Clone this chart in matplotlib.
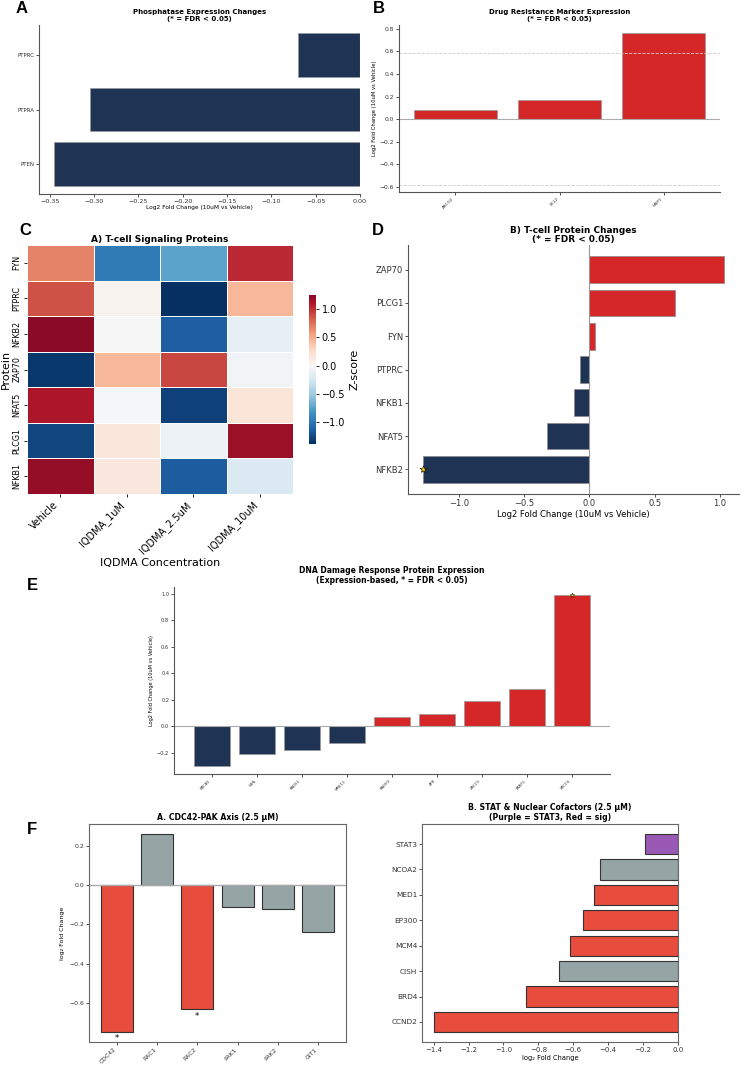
import matplotlib
matplotlib.use('Agg')
import matplotlib.pyplot as plt
import numpy as np
import pandas as pd
import seaborn as sns

W, H = 742, 1068
NAVY = '#1f3354'
RED = '#d62728'
F_RED = '#e74c3c'
F_GREY = '#95a5a6'
F_PURPLE = '#9b59b6'

# A - phosphatases
phos_genes = ['PTEN', 'PTPRA', 'PTPRC']
phos_lfc = [-0.345, -0.305, -0.070]

# B - drug resistance markers
drug_genes = ['ABCG2', 'BCL2', 'MRP1']
drug_lfc = [0.083, 0.172, 0.762]

# C - heatmap z-scores (rows = proteins, cols = conditions)
heat_proteins = ['FYN', 'PTPRC', 'NFKB2', 'ZAP70', 'NFAT5', 'PLCG1', 'NFKB1']
heat_conds = ['Vehicle', 'IQDMA_1uM', 'IQDMA_2.5uM', 'IQDMA_10uM']
z_fyn = [0.68, -0.97, -0.74, 1.03]
z_ptprc = [0.88, 0.05, -1.38, 0.45]
z_nfkb2 = [1.25, 0.00, -1.13, -0.12]
z_zap70 = [-1.32, 0.45, 0.92, -0.05]
z_nfat5 = [1.12, -0.02, -1.28, 0.18]
z_plcg1 = [-1.26, 0.16, -0.08, 1.18]
z_nfkb1 = [1.20, 0.15, -1.15, -0.20]

# D - T-cell protein changes
tcell_genes = ['NFKB2', 'NFAT5', 'NFKB1', 'PTPRC', 'FYN', 'PLCG1', 'ZAP70']
tcell_lfc = [-1.275, -0.326, -0.115, -0.070, 0.040, 0.655, 1.030]
tcell_sig = [True, False, False, False, False, False, False]

# E - DNA damage response
ddr_genes = ['BRCA1', 'NBN', 'RAD51', 'MRE11', 'RAD50', 'ATR', 'XRCC5', 'PARP1', 'XRCC6']
ddr_lfc = [-0.298, -0.213, -0.178, -0.130, 0.065, 0.088, 0.190, 0.280, 0.987]
ddr_sig = [False, False, False, False, False, False, False, False, True]

# F left - CDC42-PAK axis
cdc_genes = ['CDC42', 'RAC1', 'RAC2', 'PAK1', 'PAK2', 'GIT1']
cdc_lfc = [-0.746, 0.259, -0.631, -0.110, -0.122, -0.240]
cdc_sig = [True, False, True, False, False, False]

# F right - STAT & nuclear cofactors
stat_genes = ['CCND2', 'BRD4', 'CISH', 'MCM4', 'EP300', 'MED1', 'NCOA2', 'STAT3']
stat_lfc = [-1.400, -0.872, -0.680, -0.620, -0.545, -0.480, -0.445, -0.190]
stat_sig = [True, True, False, True, True, True, False, False]

fig = plt.figure(figsize=(W / 100, H / 100), dpi=100)


def add_ax(l, t, r, b):
    return fig.add_axes([l / W, 1 - b / H, (r - l) / W, (b - t) / H])


def despine(ax, size):
    for s in ['top', 'right']:
        ax.spines[s].set_visible(False)
    for s in ['left', 'bottom']:
        ax.spines[s].set_color('#555555')
        ax.spines[s].set_linewidth(0.8)
    ax.tick_params(labelsize=size, length=2, width=0.6, pad=1.5, colors='#333333')


def boxed(ax, size):
    for s in ax.spines.values():
        s.set_color('#666666')
        s.set_linewidth(0.8)
    ax.tick_params(labelsize=size, length=2, width=0.6, pad=1.5, colors='#333333')


def sign_colors(vals):
    return [RED if v > 0 else NAVY for v in vals]


# ---------- A ----------
axA = add_ax(39, 25, 360, 194)
axA.barh(phos_genes, phos_lfc, height=0.8, color=sign_colors(phos_lfc),
         edgecolor='#999999', linewidth=0.5)
axA.axvline(0, color='#bbbbbb', lw=0.8)
axA.set_xlim(-0.3623, 0.0)
despine(axA, 4.6)
axA.tick_params(axis='y', labelsize=4)
axA.set_xlabel('Log2 Fold Change (10uM vs Vehicle)', fontsize=4.2, labelpad=1)
axA.set_title('Phosphatase Expression Changes\n(* = FDR < 0.05)',
              fontsize=5.0, fontweight='bold', pad=3, linespacing=1.1)

# ---------- B ----------
axB = add_ax(399, 25, 720, 192)
axB.bar(drug_genes, drug_lfc, width=0.8, color=sign_colors(drug_lfc),
        edgecolor='#999999', linewidth=0.5)
axB.axhline(0, color='#aaaaaa', lw=0.8)
for y in (0.585, -0.585):
    axB.axhline(y, color='#cccccc', ls='--', lw=0.6)
axB.set_ylim(-0.647, 0.835)
despine(axB, 4.3)
axB.tick_params(axis='x', labelsize=3)
plt.setp(axB.get_xticklabels(), rotation=45, ha='right')
axB.set_ylabel('Log2 Fold Change (10uM vs Vehicle)', fontsize=3.8, labelpad=2)
axB.set_title('Drug Resistance Marker Expression\n(* = FDR < 0.05)',
              fontsize=5.0, fontweight='bold', pad=3, linespacing=1.1)

# ---------- C ----------
heat_df = pd.DataFrame([z_fyn, z_ptprc, z_nfkb2, z_zap70, z_nfat5, z_plcg1, z_nfkb1],
                       index=heat_proteins, columns=heat_conds)
axC = add_ax(27, 245, 293, 494)
caxC = add_ax(309, 295, 316, 444)
sns.heatmap(heat_df, ax=axC, cbar_ax=caxC, cmap='RdBu_r', center=0,
            linewidths=0.5, linecolor='white')
axC.tick_params(labelsize=7, length=2.5, width=0.6, pad=1.5)
axC.tick_params(axis='y', labelsize=5.8)
plt.setp(axC.get_xticklabels(), rotation=45, ha='right', rotation_mode='default')
plt.setp(axC.get_yticklabels(), rotation=90, va='center')
axC.set_xlabel('IQDMA Concentration', fontsize=8, labelpad=2)
axC.set_ylabel('Protein', fontsize=8, labelpad=1)
axC.set_title('A) T-cell Signaling Proteins', fontsize=6.5, fontweight='bold', pad=2)
caxC.tick_params(labelsize=7, length=2.5, width=0.6, pad=1.5)
caxC.set_ylabel('Z-score', fontsize=8, labelpad=3)

# ---------- D ----------
axD = add_ax(408, 245, 739, 494)
axD.barh(tcell_genes, tcell_lfc, height=0.8, color=sign_colors(tcell_lfc),
         edgecolor='#888888', linewidth=0.5)
axD.axvline(0, color='#999999', lw=0.8)
for i, (v, s) in enumerate(zip(tcell_lfc, tcell_sig)):
    if s:
        axD.scatter(v, i, marker='*', s=28, color='gold', edgecolor='black',
                    linewidth=0.4, zorder=5)
despine(axD, 6)
axD.set_xlabel('Log2 Fold Change (10uM vs Vehicle)', fontsize=6, labelpad=1.5)
axD.set_title('B) T-cell Protein Changes\n(* = FDR < 0.05)',
              fontsize=6.4, fontweight='bold', pad=2, linespacing=1.1)

# ---------- E ----------
axE = add_ax(174, 587, 610, 774)
x_ddr = np.arange(len(ddr_genes))
axE.bar(x_ddr, ddr_lfc, width=0.8, color=sign_colors(ddr_lfc),
        edgecolor='#999999', linewidth=0.5)
axE.axhline(0, color='#aaaaaa', lw=0.8)
for i, (v, s) in enumerate(zip(ddr_lfc, ddr_sig)):
    if s:
        axE.scatter(i, v, marker='*', s=12, color='gold', edgecolor='black',
                    linewidth=0.3, zorder=5)
axE.set_xticks(x_ddr)
axE.set_xticklabels(ddr_genes, rotation=45, ha='right')
despine(axE, 3.6)
axE.tick_params(axis='x', labelsize=2.8)
axE.set_ylabel('Log2 Fold Change (10uM vs Vehicle)', fontsize=3.6, labelpad=2)
axE.set_title('DNA Damage Response Protein Expression\n(Expression-based, * = FDR < 0.05)',
              fontsize=5.5, fontweight='bold', pad=3, linespacing=1.1)

# ---------- F left ----------
axF1 = add_ax(89, 824, 346, 1042)
x_cdc = np.arange(len(cdc_genes))
axF1.bar(x_cdc, cdc_lfc, width=0.8,
         color=[F_RED if s else F_GREY for s in cdc_sig],
         edgecolor='#333333', linewidth=0.8)
axF1.axhline(0, color='#aaaaaa', lw=1)
for i, (v, s) in enumerate(zip(cdc_lfc, cdc_sig)):
    if s:
        axF1.text(i, v - 0.012, '*', ha='center', va='top', fontsize=6)
axF1.set_xticks(x_cdc)
axF1.set_xticklabels(cdc_genes, rotation=45, ha='right')
boxed(axF1, 4.4)
axF1.set_ylabel('log₂ Fold Change', fontsize=4.5, labelpad=3)
axF1.set_title('A. CDC42-PAK Axis (2.5 μM)', fontsize=5.6, fontweight='bold', pad=3)

# ---------- F right ----------
axF2 = add_ax(422, 824, 678, 1042)
stat_colors = [F_RED if s else F_GREY for s in stat_sig]
stat_colors[stat_genes.index('STAT3')] = F_PURPLE
axF2.barh(stat_genes, stat_lfc, height=0.8, color=stat_colors,
          edgecolor='#333333', linewidth=0.8)
axF2.set_xlim(-1.467, 0.0)
boxed(axF2, 5.0)
axF2.tick_params(axis='y', labelsize=5.3)
axF2.set_xlabel('log₂ Fold Change', fontsize=4.8, labelpad=1.5)
axF2.set_title('B. STAT & Nuclear Cofactors (2.5 μM)\n(Purple = STAT3, Red = sig)',
               fontsize=5.6, fontweight='bold', pad=3, linespacing=1.1)

# ---------- panel letters ----------
letters = [('A', 16, 1), ('B', 373, 1), ('C', 19, 223), ('D', 372, 223),
           ('E', 27, 578), ('F', 27, 822)]
for lab, lx, ly in letters:
    fig.text(lx / W, 1 - ly / H, lab, fontsize=12, fontweight='bold',
             family='Liberation Sans', ha='left', va='top')

fig.savefig('out.png', dpi=100)
